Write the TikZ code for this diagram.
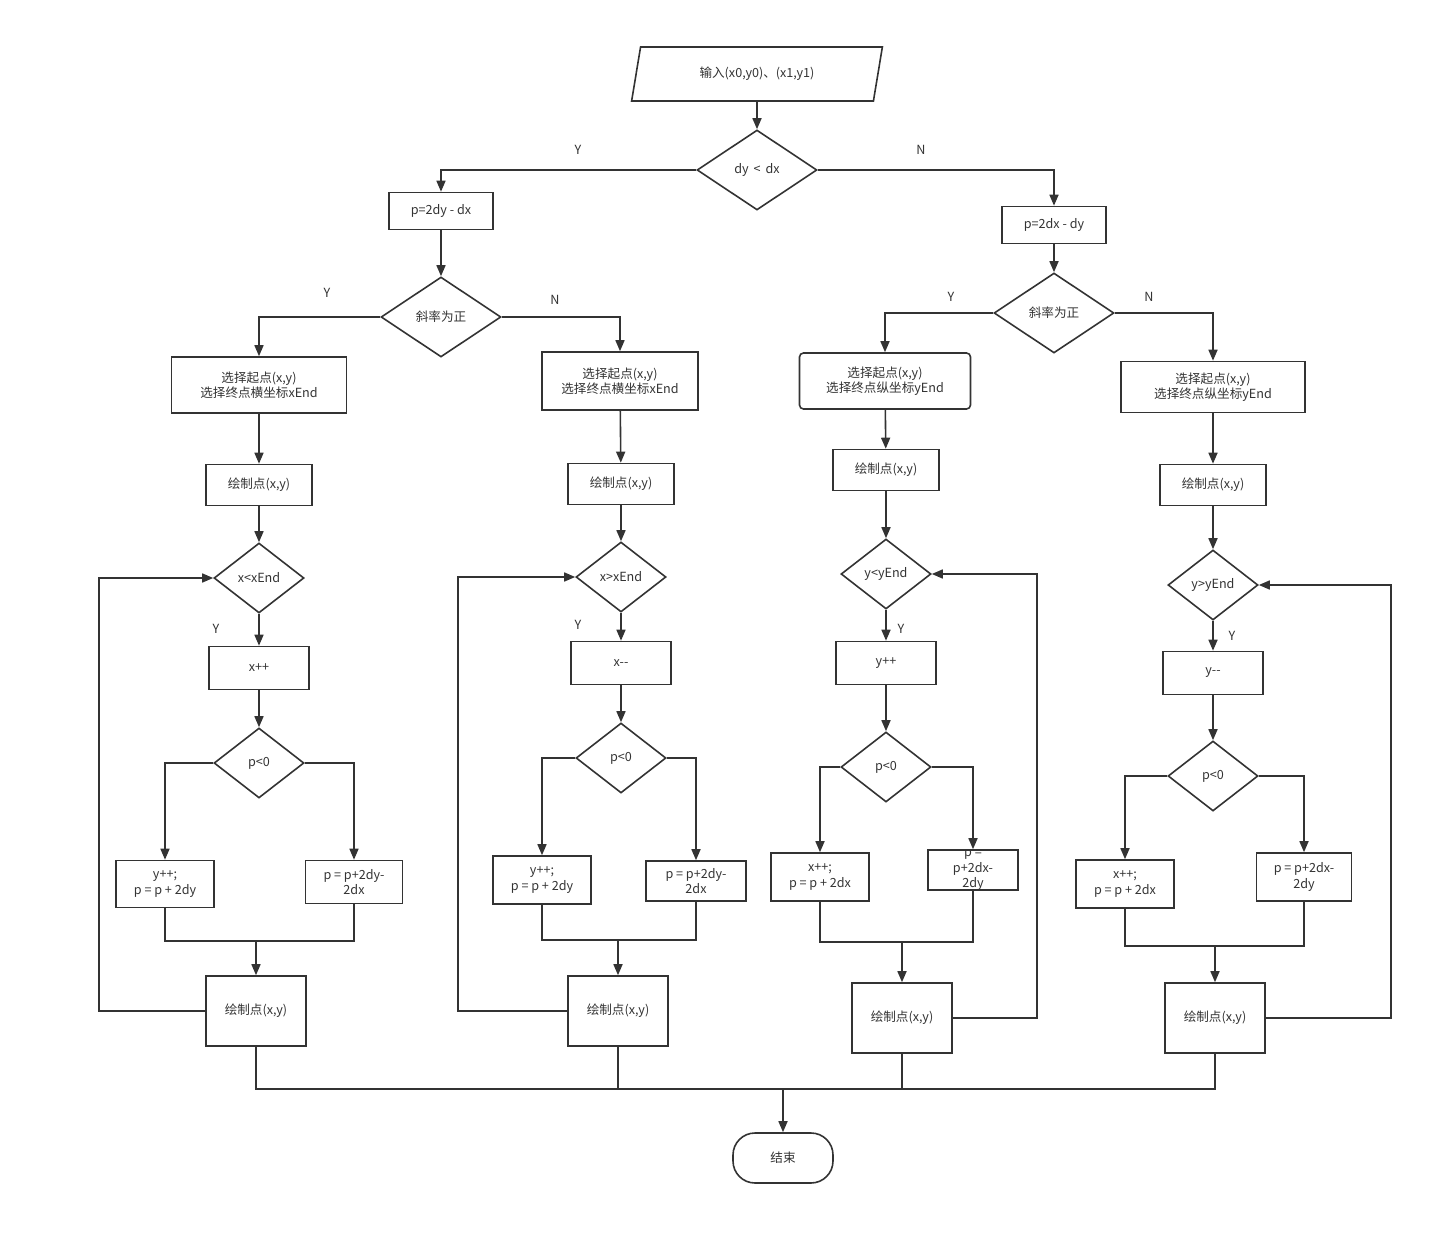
\documentclass[tikz,border=0pt]{standalone}
\usepackage{fontspec}
\setmainfont{Noto Sans CJK SC}
\usetikzlibrary{positioning,arrows.meta,shapes.geometric}
\definecolor{ink}{HTML}{333333}

\begin{document}
\begin{tikzpicture}[x=1pt,y=-1pt,
  font=\fontsize{12.6}{15.5}\selectfont,
  every node/.style={text=ink},
  flow/.style={draw=ink, line width=1.6pt},
  arr/.style={flow, -{Triangle[length=11pt,width=9pt]}},
  box/.style={flow, align=center, inner sep=2pt, minimum width=100pt, minimum height=43pt},
  ask/.style={flow, diamond, inner sep=0pt, minimum width=90pt, minimum height=70pt},
  bigask/.style={ask, minimum width=120pt, minimum height=80pt}]
\useasboundingbox (0,0) rectangle (1452,1244);

% top part
\node[flow, trapezium, trapezium left angle=72, trapezium right angle=108, trapezium stretches=true,
  minimum width=251pt, minimum height=54pt, inner sep=0pt] (start) at (757,74) {输入(x0,y0)、(x1,y1)};
\node[bigask] (d0) at (757,170) {dy \,<\, dx};
\node[box, minimum width=104pt, minimum height=37pt] (pL) at (441,211) {p=2dy - dx};
\node[box, minimum width=104pt, minimum height=37pt] (pR) at (1054,225) {p=2dx - dy};
\node[bigask] (sL) at (441,317) {斜率为正};
\node[bigask] (sR) at (1054,313) {斜率为正};
\node (y0) at (578,150) {Y};
\node (n0) at (921,150) {N};
\node (y1) at (327,293) {Y};
\node (n1) at (555,300) {N};
\node (y2) at (951,297) {Y};
\node (n2) at (1149,297) {N};

% column 1
\node[box, minimum width=175pt, minimum height=56pt] (c1sel) at (259,385) {选择起点(x,y)\\选择终点横坐标xEnd};
\node[box, minimum width=106pt, minimum height=41pt] (c1d1) at (259,485) {绘制点(x,y)};
\node[ask] (c1cond) at (259,578) {x<xEnd};
\node (c1y) at (216,629) {Y};
\node[box] (c1inc) at (259,668) {x++};
\node[ask] (c1p) at (259,763) {p<0};
\node[box, minimum width=98pt, minimum height=47pt] (c1a) at (165,884) {y++;\\p = p + 2dy};
\node[box, minimum width=97pt, minimum height=43pt] (c1b) at (354,882) {p = p+2dy-\\2dx};
\node[box, minimum height=70pt] (c1d2) at (256,1011) {绘制点(x,y)};
\coordinate (c1m) at (256,941);
\coordinate (c1loop) at (99,578);

% column 2
\node[box, minimum width=156pt, minimum height=58pt] (c2sel) at (620,381) {选择起点(x,y)\\选择终点横坐标xEnd};
\node[box, minimum width=106pt, minimum height=41pt] (c2d1) at (621,484) {绘制点(x,y)};
\node[ask] (c2cond) at (621,577) {x>xEnd};
\node (c2y) at (578,625) {Y};
\node[box] (c2inc) at (621,663) {x-{}-};
\node[ask] (c2p) at (621,758) {p<0};
\node[box, minimum width=98pt, minimum height=48pt] (c2a) at (542,880) {y++;\\p = p + 2dy};
\node[box, minimum width=100pt, minimum height=40pt] (c2b) at (696,881) {p = p+2dy-\\2dx};
\node[box, minimum height=70pt] (c2d2) at (618,1011) {绘制点(x,y)};
\coordinate (c2m) at (618,940);
\coordinate (c2loop) at (458,577);

% column 3
\node[box, rounded corners=4pt, minimum width=171pt, minimum height=56pt] (c3sel) at (885,381) {选择起点(x,y)\\选择终点纵坐标yEnd};
\node[box, minimum width=106pt, minimum height=41pt] (c3d1) at (886,470) {绘制点(x,y)};
\node[ask] (c3cond) at (886,574) {y<yEnd};
\node (c3y) at (901,629) {Y};
\node[box] (c3inc) at (886,663) {y++};
\node[ask] (c3p) at (886,767) {p<0};
\node[box, minimum width=98pt, minimum height=48pt] (c3a) at (820,877) {x++;\\p = p + 2dx};
\node[box, minimum width=90pt, minimum height=40pt] (c3b) at (973,870) {};
\node[align=center] (c3bt) at (c3b) {p =\\p+2dx-\\2dy};
\node[box, minimum height=70pt] (c3d2) at (902,1018) {绘制点(x,y)};
\coordinate (c3m) at (902,942);
\coordinate (c3loop) at (1037,574);

% column 4
\node[box, minimum width=184pt, minimum height=51pt] (c4sel) at (1213,387) {选择起点(x,y)\\选择终点纵坐标yEnd};
\node[box, minimum width=106pt, minimum height=41pt] (c4d1) at (1213,485) {绘制点(x,y)};
\node[ask] (c4cond) at (1213,585) {y>yEnd};
\node (c4y) at (1232,636) {Y};
\node[box] (c4inc) at (1213,673) {y-{}-};
\node[ask] (c4p) at (1213,776) {p<0};
\node[box, minimum width=98pt, minimum height=48pt] (c4a) at (1125,884) {x++;\\p = p + 2dx};
\node[box, minimum width=95pt, minimum height=48pt] (c4b) at (1304,877) {p = p+2dx-\\2dy};
\node[box, minimum height=70pt] (c4d2) at (1215,1018) {绘制点(x,y)};
\coordinate (c4m) at (1215,946);
\coordinate (c4loop) at (1391,585);

% end
\coordinate (bus) at (783,1089);
\node[flow, rounded corners=22pt, minimum width=100pt, minimum height=50pt] (stop) at (783,1158) {结束};

% connectors
\draw[arr] (start) -- (d0);
\draw[arr] (d0.west) -| (pL);
\draw[arr] (d0.east) -| (pR);
\draw[arr] (pL) -- (sL);
\draw[arr] (pR) -- (sR);
\draw[arr] (sL.west) -| (c1sel);
\draw[arr] (sL.east) -| (c2sel);
\draw[arr] (sR.west) -| (c3sel);
\draw[arr] (sR.east) -| (c4sel);

\foreach \c in {c1,c2,c3,c4}{
  \draw[arr] (\c sel) -- (\c d1);
  \draw[arr] (\c d1) -- (\c cond);
  \draw[arr] (\c cond) -- (\c inc);
  \draw[arr] (\c inc) -- (\c p);
  \draw[arr] (\c p.west) -| (\c a);
  \draw[arr] (\c p.east) -| (\c b);
  \draw[flow] (\c a.south) |- (\c m);
  \draw[flow] (\c b.south) |- (\c m);
  \draw[arr] (\c m) -- (\c d2);
  \draw[flow] (\c d2.south) |- (bus);
}

\draw[arr] (c1d2.west) -| (c1loop) -- (c1cond.west);
\draw[arr] (c2d2.west) -| (c2loop) -- (c2cond.west);
\draw[arr] (c3d2.east) -| (c3loop) -- (c3cond.east);
\draw[arr] (c4d2.east) -| (c4loop) -- (c4cond.east);

\draw[arr] (bus) -- (stop);
\end{tikzpicture}
\end{document}
